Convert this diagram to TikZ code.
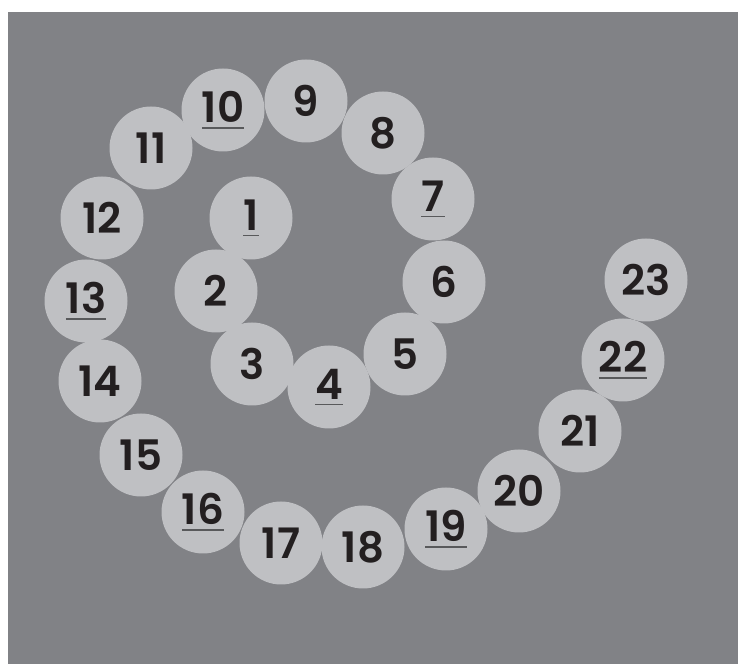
\documentclass[tikz,border=0pt]{standalone}
\usepackage{fontspec}
\setmainfont{Poppins}[BoldFont={Poppins SemiBold}]
\usepackage{xcolor}
\usepackage{tikz}

\definecolor{boardgray}{HTML}{818286}
\definecolor{ballgray}{HTML}{BFC0C3}
\definecolor{numblack}{HTML}{231F20}
\definecolor{linegray}{HTML}{58595B}

% underlined number on every third ball
\newcommand{\keynum}[1]{{\setbox0\hbox{#1}\rlap{\copy0}\textcolor{linegray}{\rule[-6pt]{\wd0}{1.6pt}}}}

\begin{document}
\begin{tikzpicture}[x=1pt, y=-1pt,
    ball/.style={circle, fill=ballgray, minimum size=83pt, inner sep=0pt,
                 text=numblack, font=\fontsize{42}{42}\selectfont\bfseries}]
  \useasboundingbox (0,0) rectangle (740,668);
  \fill[boardgray] (8,12) rectangle (738,664);

  \foreach \n/\x/\y in {1/251/218, 2/216/291, 3/252/364, 4/329/387, 5/405/354,
      6/444/282, 7/433/199, 8/383/133, 9/306/101, 10/223/110, 11/151/148,
      12/102/218, 13/86/301, 14/100/381, 15/141/455, 16/203/512, 17/281/543,
      18/363/547, 19/446/529, 20/519/491, 21/580/431, 22/623/360, 23/646/280}
  {
    \pgfmathtruncatemacro{\r}{mod(\n,3)}
    \ifnum\r=1
      \node[ball] (b\n) at (\x,\y) {\keynum{\n}};
    \else
      \node[ball] (b\n) at (\x,\y) {\n};
    \fi
  }
\end{tikzpicture}
\end{document}
